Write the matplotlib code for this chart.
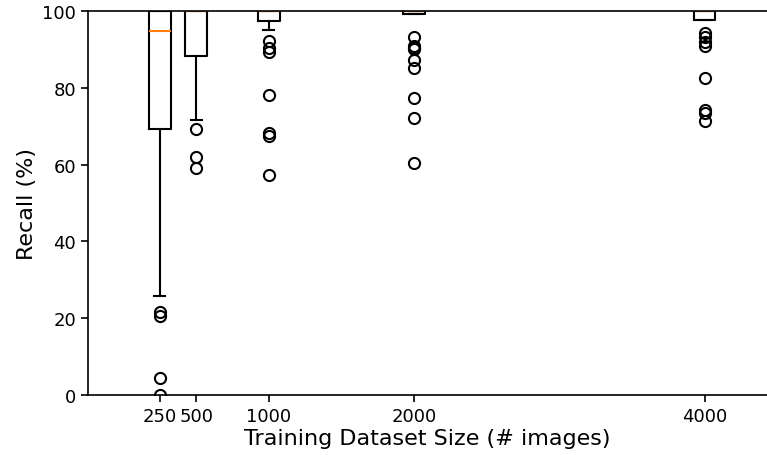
import matplotlib
matplotlib.use("Agg")
import matplotlib.pyplot as plt

# training set sizes (box positions)
sizes = [250, 500, 1000, 2000, 4000]

# box statistics (recall, %)
medians = [94.7, 100.0, 100.0, 100.0, 100.0]
q1 = [69.3, 88.2, 97.3, 99.2, 97.7]
q3 = [100.0, 100.0, 100.0, 100.0, 100.0]
whis_lo = [25.9, 71.6, 95.1, 99.2, 97.7]
whis_hi = [100.0, 100.0, 100.0, 100.0, 100.0]
outliers = [
    [21.6, 20.6, 4.3, 0.0],
    [69.3, 62.1, 59.0],
    [92.3, 90.3, 89.2, 78.2, 68.1, 67.4, 57.4],
    [93.2, 91.0, 90.3, 90.0, 87.2, 85.2, 77.3, 72.1, 60.4],
    [94.2, 93.1, 91.8, 91.0, 82.6, 74.3, 73.4, 71.4],
]

stats = []
for i in range(len(sizes)):
    stats.append({
        "med": medians[i], "q1": q1[i], "q3": q3[i],
        "whislo": whis_lo[i], "whishi": whis_hi[i],
        "fliers": outliers[i],
    })

fig = plt.figure(figsize=(7.67, 4.56), dpi=100)
ax = fig.add_axes([88 / 767, 60 / 456, 1 - 88 / 767, 384 / 456])

lw = 1.5
ax.bxp(stats, positions=sizes, widths=150,
       boxprops=dict(color="black", linewidth=lw),
       whiskerprops=dict(color="black", linewidth=lw),
       capprops=dict(color="black", linewidth=lw),
       medianprops=dict(color="#ff7f0e", linewidth=lw),
       flierprops=dict(marker="o", markerfacecolor="none",
                       markeredgecolor="black", markersize=8,
                       markeredgewidth=1.5))

ax.set_xlim(-245, 4430)
ax.set_ylim(0, 100)
ax.set_xticks(sizes)
ax.set_xticklabels([str(s) for s in sizes])
ax.set_yticks([0, 20, 40, 60, 80, 100])
ax.spines["right"].set_visible(False)
for s in ["left", "top", "bottom"]:
    ax.spines[s].set_linewidth(1.2)
ax.tick_params(labelsize=13, width=1.2, length=5)
ax.set_xlabel("Training Dataset Size (# images)", fontsize=16, labelpad=2)
ax.set_ylabel("Recall (%)", fontsize=16)

fig.savefig("out.png", dpi=100)
